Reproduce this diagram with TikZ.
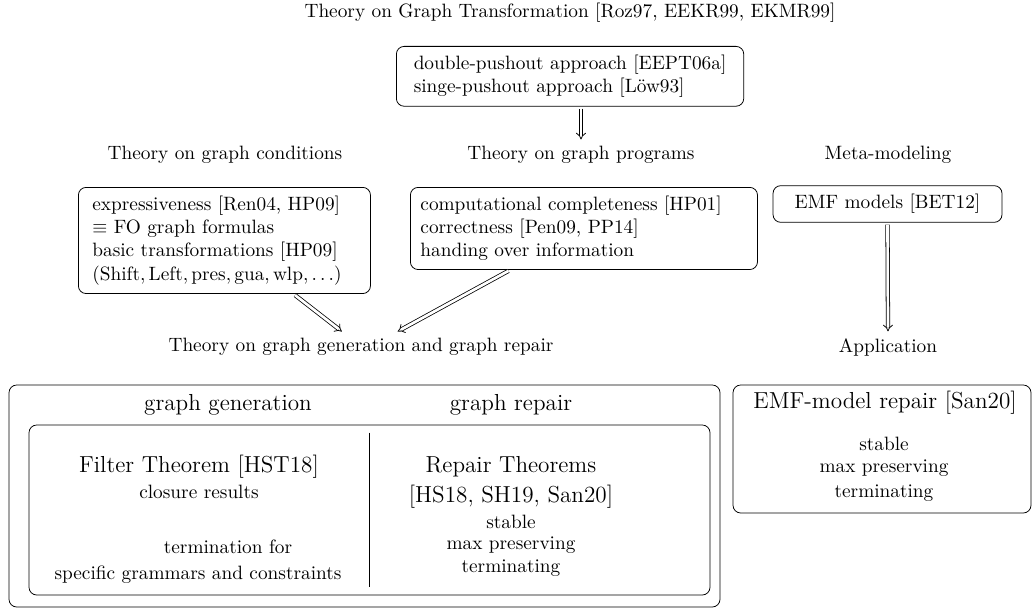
\documentclass[tikz,border=0pt]{standalone}
\usepackage{fontspec}
\usetikzlibrary{arrows.meta,calc,fit}
\begin{document}
\begin{tikzpicture}[x=0.518pt, y=-0.518pt,
  box/.style={draw, rounded corners=4pt, inner ysep=4.5pt},
  frame/.style={draw, rounded corners=4pt, inner sep=0pt},
  lbl/.style={inner sep=3.33pt},
  big/.style={font=\large},
  imp/.style={double, double distance=1.4pt, -{Implies}, shorten <=1pt}]
\useasboundingbox (0,0) rectangle (1033,608);

% top: graph transformation
\node[lbl] (title) at (570,13) {Theory on Graph Transformation [Roz97, EEKR99, EKMR99]};
\node[box, anchor=north west, align=left, inner xsep=9pt] (dpo) at (396,46)
  {double-pushout approach [EEPT06a]\\ singe-pushout approach [Löw93]};

% middle row: the three theories
\node[lbl] (condlbl) at (225,155) {Theory on graph conditions};
\node[lbl] (proglbl) at (581,155) {Theory on graph programs};
\node[lbl] (metalbl) at (888,155) {Meta-modeling};

\node[box, anchor=north west, align=left, inner xsep=7.25pt, text width=136.8pt] (cond) at (78,187)
  {expressiveness [Ren04, HP09]\\
   $\equiv$ FO graph formulas\\
   basic transformations [HP09]\\
   $(\mathrm{Shift}, \mathrm{Left}, \mathrm{pres}, \mathrm{gua}, \mathrm{wlp}, \ldots)$};
\node[box, anchor=north west, align=left, inner xsep=5.2pt, text width=169.4pt] (prog) at (410,187)
  {computational completeness [HP01]\\
   correctness [Pen09, PP14]\\
   handing over information};
\node[box, minimum width=118.6pt, minimum height=18.6pt] (emf) at (887.5,204) {EMF models [BET12]};

\node[lbl] (gen) at (361,347) {Theory on graph generation and graph repair};
\node[lbl] (appl) at (888,347) {Application};

% bottom left: generation and repair
\coordinate (oTL) at (9,385);   \coordinate (oBR) at (720,607);
\coordinate (iTL) at (29,425);  \coordinate (iBR) at (710,595);
\node[frame, fit=(oTL)(oBR)] (outer) {};
\node[frame, fit=(iTL)(iBR)] (inner) {};
\draw ($(inner.north)+(0,8)$) -- ($(inner.south)+(0,-8)$);

\node[big] (gg) at (228,405) {graph generation};
\node[big] (gr) at (511,405) {graph repair};
\node[big] (filter) at (199,467) {Filter Theorem [HST18]};
\node (closure) at (199,492) {closure results};
\node (termfor) at (228,547) {termination for};
\node (specific) at (198,575) {specific grammars and constraints};
\node[big] (repair) at (511,467) {Repair Theorems};
\node[big] (repcite) at (511,497) {[HS18, SH19, San20]};
\node (rstable) at (511,522) {stable};
\node (rmax) at (511,545) {max preserving};
\node (rterm) at (511,568) {terminating};

% bottom right: application
\coordinate (aTL) at (733,385); \coordinate (aBR) at (1031,513);
\node[frame, fit=(aTL)(aBR)] (emfbox) {};
\node[big] (emfrep) at (885,403) {EMF-model repair [San20]};
\node (estable) at (884,444) {stable};
\node (emax) at (884,468) {max preserving};
\node (eterm) at (884,493) {terminating};

% implications
\draw[imp] (dpo.south -| proglbl.north) -- (proglbl.north);
\draw[imp] ($(cond.south west)!0.736!(cond.south east)$) -- ($(gen.north west)!0.452!(gen.north east)$);
\draw[imp] ($(prog.south west)!0.288!(prog.south east)$) -- ($(gen.north west)!0.592!(gen.north east)$);
\draw[imp] (emf.south) -- (appl.north);
\end{tikzpicture}
\end{document}
